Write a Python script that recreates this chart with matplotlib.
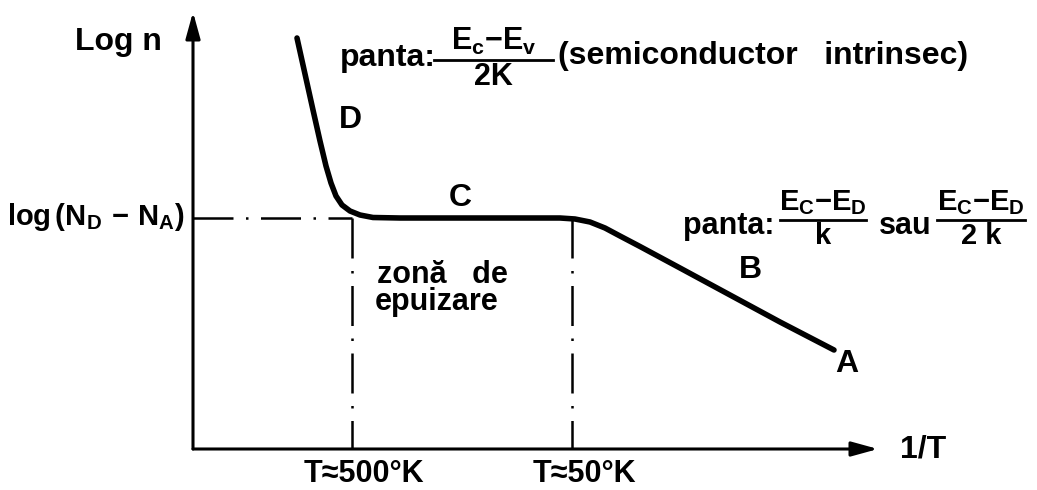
import matplotlib.pyplot as plt

# ── Font setup: heavy sans for all labels ───────────────────────────────────
FONT = 'Liberation Sans'
plt.rcParams['font.family'] = [FONT, 'DejaVu Sans']
plt.rcParams['font.weight'] = 'bold'
plt.rcParams['mathtext.fontset'] = 'custom'
plt.rcParams['mathtext.rm'] = FONT + ':bold'
plt.rcParams['mathtext.it'] = FONT + ':bold'
plt.rcParams['mathtext.bf'] = FONT + ':bold'
plt.rcParams['mathtext.default'] = 'rm'

# ── Curve log n vs 1/T (drawing units, y grows downward) ────────────────────
curve_x = [297, 305, 313, 320, 326, 331, 336, 342, 350, 360, 373, 400, 450,
           500, 540, 560, 575, 590, 605, 620, 640, 680, 730, 780, 834]
curve_y = [38, 74, 110, 141, 166, 183, 196, 205, 211, 215, 217.5, 218, 218,
           218, 218, 218, 219, 222, 228, 236, 246.5, 268, 295, 322, 350]

# axis frame
origin = (193, 449)
y_top = 12
x_end = 878

# saturation level and the two temperature markers
sat_level = 218
t_marks_x = [352, 572]
t_marks_lbl = ['T≈500°K', 'T≈50°K']
t_lbl_x = [364, 584]

# region letters
region_lbl = ['D', 'C', 'B', 'A']
region_x = [350, 460, 750, 847]
region_y = [120, 198, 270, 364]

fig = plt.figure(figsize=(10.37, 4.9), dpi=100)
ax = fig.add_axes([0, 0, 1, 1])
ax.set_xlim(0, 1037)
ax.set_ylim(490, 0)
ax.axis('off')

# ── Axes with arrowheads ────────────────────────────────────────────────────
arrow = dict(arrowstyle='-|>,head_length=0.8,head_width=0.22',
             lw=2.2, color='black', mutation_scale=20, shrinkA=0, shrinkB=0)
ax.annotate('', xy=(origin[0], y_top), xytext=origin, arrowprops=arrow)
ax.annotate('', xy=(x_end, origin[1]), xytext=origin, arrowprops=arrow)

# ── Dash-dot guides ─────────────────────────────────────────────────────────
dashdot = (0, (16, 5, 1, 5))
ax.plot([origin[0], t_marks_x[0]], [sat_level, sat_level], color='black',
        lw=1.8, ls=dashdot)
for xm in t_marks_x:
    ax.plot([xm, xm], [sat_level, origin[1]], color='black', lw=1.8, ls=dashdot)

# ── Main curve ──────────────────────────────────────────────────────────────
ax.plot(curve_x, curve_y, color='black', lw=4.0, solid_capstyle='round',
        solid_joinstyle='round')

# ── Labels ──────────────────────────────────────────────────────────────────
ax.text(118, 42, 'Log n', fontsize=23, ha='center', va='center')
ax.text(185, 217, r'log$\,$(N$_D$$\,-\,$N$_A$)', fontsize=21, ha='right',
        va='center')
ax.text(900, 449, '1/T', fontsize=23, ha='left', va='center')

for lbl, xl in zip(t_marks_lbl, t_lbl_x):
    ax.text(xl, 474, lbl, fontsize=22, ha='center', va='center')

for lbl, xl, yl in zip(region_lbl, region_x, region_y):
    ax.text(xl, yl, lbl, fontsize=23, ha='center', va='center')

ax.text(442, 275, 'zonă   de', fontsize=22, ha='center', va='center')
ax.text(437, 302, 'epuizare', fontsize=22, ha='center', va='center')


def fraction(x0, x1, ybar, num, den, size=22):
    xc = (x0 + x1) / 2
    ax.plot([x0, x1], [ybar, ybar], color='black', lw=2.0)
    ax.text(xc, ybar - 3, num, fontsize=size, ha='center', va='bottom')
    ax.text(xc, ybar + 2, den, fontsize=size, ha='center', va='top')


# intrinsic slope
ax.text(340, 58, 'panta:', fontsize=23, ha='left', va='center')
fraction(434, 553, 60, r'E$_c$$-$E$_v$', '2K')
ax.text(558, 56, '(semiconductor   intrinsec)', fontsize=23, ha='left',
        va='center')

# extrinsic slope
ax.text(683, 226, 'panta:', fontsize=22, ha='left', va='center')
fraction(780, 866, 220, r'E$_C$$-$E$_D$', 'k', size=21)
ax.text(879, 226, 'sau', fontsize=22, ha='left', va='center')
fraction(937, 1025, 220, r'E$_C$$-$E$_D$', '2 k', size=21)

fig.savefig('out.png', dpi=100)
